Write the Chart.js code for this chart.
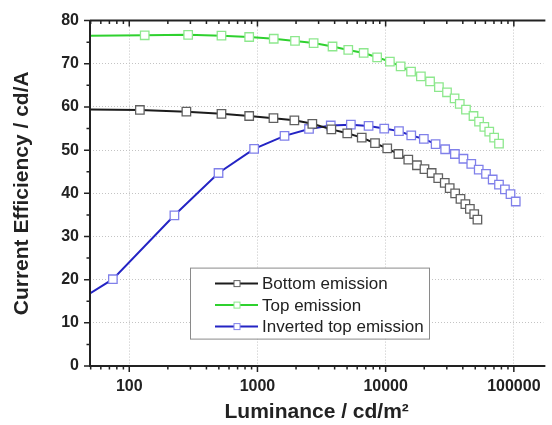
<!DOCTYPE html>
<html>
<head>
<meta charset="utf-8">
<script src="https://cdn.jsdelivr.net/npm/chart.js@4"></script>
<style>
  html, body { margin: 0; padding: 0; background: #fff; }
</style>
</head>
<body>
<canvas id="effChart" width="552" height="425"></canvas>
<script>
// values: luminance (cd/m2) vs current efficiency (cd/A)
// first entry of each series = where the fitted curve enters the plot (no marker there)
const bottomLum = [49.4, 121, 279, 524, 862, 1333, 1941, 2680, 3770, 5020, 6510, 8260, 10290, 12590,
  15020, 17550, 20090, 22850, 25720, 28920, 31600, 34850, 38350, 41880, 45400, 49080, 52000];
const bottomEff = [59.4, 59.3, 58.9, 58.4, 57.9, 57.4, 56.9, 56.1, 54.8, 53.9, 52.9, 51.6, 50.4, 49.1,
  47.8, 46.5, 45.6, 44.7, 43.5, 42.4, 41.2, 40.0, 38.7, 37.5, 36.4, 35.2, 33.9];

const topLum = [49.4, 132, 288, 524, 862, 1340, 1963, 2743, 3852, 5110, 6740, 8580, 10790, 13090,
  15780, 18830, 22210, 26030, 30110, 34500, 37860, 42340, 48450, 53540, 58840, 64300, 70200, 76600];
const topEff = [76.5, 76.6, 76.7, 76.5, 76.2, 75.8, 75.3, 74.8, 74.0, 73.2, 72.5, 71.5, 70.5, 69.4,
  68.2, 67.1, 65.9, 64.6, 63.4, 62.0, 60.7, 59.4, 57.9, 56.6, 55.4, 54.3, 52.9, 51.5];

const invLum = [49.4, 74.5, 225, 497, 942, 1626, 2525, 3732, 5355, 7360, 9750, 12700, 15840, 19860,
  24550, 29120, 34690, 40450, 46560, 53230, 60650, 68400, 76600, 85200, 94200, 103500];
const invEff = [16.8, 20.1, 34.9, 44.7, 50.3, 53.3, 54.9, 55.7, 55.9, 55.6, 55.0, 54.4, 53.4, 52.6,
  51.4, 50.2, 49.1, 48.0, 46.8, 45.5, 44.5, 43.2, 42.0, 40.9, 39.8, 38.1];

const seriesNames = ["Bottom emission", "Top emission", "Inverted top emission"];
const xDecades = [100, 1000, 10000, 100000];
const yTicks = [0, 10, 20, 30, 40, 50, 60, 70, 80];

const lineColors = ["#1c1c1c", "#2fd12f", "#2424c4"];
const markColors = ["#606060", "#8de88d", "#8080ea"];

function toPoints(xs, ys) {
  return xs.map((x, i) => ({ x: x, y: ys[i] }));
}

function makeSet(i, xs, ys) {
  return {
    label: seriesNames[i],
    data: toPoints(xs, ys),
    borderColor: lineColors[i],
    borderWidth: 2,
    pointStyle: "rect",
    pointRadius: (ctx) => (ctx.dataIndex === 0 ? 0 : 6),
    pointBorderColor: markColors[i],
    pointBackgroundColor: "#ffffff",
    pointBorderWidth: 1.3,
    tension: 0,
  };
}

// axes frame + minor/major tick marks, like the original plot
const framePlugin = {
  id: "frame",
  afterDatasetsDraw(chart) {
    const { ctx, chartArea: a, scales } = chart;
    const xs = scales.x, ys = scales.y;
    ctx.save();
    ctx.strokeStyle = "#222";
    ctx.lineWidth = 2;
    ctx.beginPath();
    ctx.moveTo(a.left, a.top);
    ctx.lineTo(a.left, a.bottom);
    ctx.lineTo(a.right + 2, a.bottom);
    ctx.moveTo(a.left, a.top);
    ctx.lineTo(a.right + 2, a.top);
    ctx.stroke();

    ctx.lineWidth = 1.5;
    ctx.beginPath();
    // y ticks (outside, to the left)
    for (let v = 0; v <= 80; v += 5) {
      const y = ys.getPixelForValue(v);
      const len = v % 10 === 0 ? 6 : 3.5;
      ctx.moveTo(a.left, y);
      ctx.lineTo(a.left - len, y);
    }
    // x ticks: bottom pointing out, top pointing in
    for (let p = 1; p <= 5; p++) {
      for (let m = 1; m <= 9; m++) {
        const v = m * Math.pow(10, p);
        if (v < xs.min || v > xs.max) continue;
        const x = xs.getPixelForValue(v);
        const len = m === 1 ? 6 : 3.5;
        ctx.moveTo(x, a.bottom);
        ctx.lineTo(x, a.bottom + len);
        ctx.moveTo(x, a.top);
        ctx.lineTo(x, a.top + len);
      }
    }
    ctx.stroke();
    ctx.restore();
  },
};

// boxed legend sitting inside the plot, lower middle
const legendPlugin = {
  id: "boxLegend",
  afterDraw(chart) {
    const { ctx, chartArea: a } = chart;
    const bx = a.left + 100, by = a.top + 247, bw = 239, bh = 71;
    ctx.save();
    ctx.fillStyle = "#fff";
    ctx.fillRect(bx, by, bw, bh);
    ctx.strokeStyle = "#8a8a8a";
    ctx.lineWidth = 1;
    ctx.strokeRect(bx + 0.5, by + 0.5, bw, bh);
    ctx.font = "17px Arial, 'Liberation Sans', sans-serif";
    ctx.textBaseline = "middle";
    seriesNames.forEach((name, i) => {
      const cy = by + 16 + i * 21.5;
      ctx.strokeStyle = lineColors[i];
      ctx.lineWidth = 2;
      ctx.beginPath();
      ctx.moveTo(bx + 25, cy);
      ctx.lineTo(bx + 68, cy);
      ctx.stroke();
      ctx.fillStyle = "#fff";
      ctx.fillRect(bx + 44, cy - 3, 6, 6);
      ctx.strokeStyle = markColors[i];
      ctx.lineWidth = 1;
      ctx.strokeRect(bx + 44, cy - 3, 6, 6);
      ctx.fillStyle = "#222";
      ctx.fillText(name, bx + 72, cy + 1);
    });
    ctx.restore();
  },
};

const tickFont = { family: "Arial, 'Liberation Sans', sans-serif", size: 16, weight: "bold" };
const titleFont = { family: "Arial, 'Liberation Sans', sans-serif", size: 21, weight: "bold" };

new Chart(document.getElementById("effChart"), {
  type: "line",
  data: {
    datasets: [
      makeSet(0, bottomLum, bottomEff),
      makeSet(1, topLum, topEff),
      makeSet(2, invLum, invEff),
    ],
  },
  options: {
    responsive: false,
    animation: false,
    devicePixelRatio: 1,
    layout: { padding: { top: 19, right: 0, left: 0, bottom: 0 } },
    plugins: { legend: { display: false }, tooltip: { enabled: false } },
    scales: {
      x: {
        type: "logarithmic",
        min: 49.4,
        max: 170000,
        afterBuildTicks: (s) => { s.ticks = xDecades.map((v) => ({ value: v })); },
        afterFit: (s) => { s.height = 59; },
        ticks: {
          font: tickFont, color: "#222", autoSkip: false, maxRotation: 0, padding: 11,
          callback: (v) => String(v),
        },
        grid: { color: "#c4c4c4", lineWidth: 1, drawTicks: false },
        border: { display: false, dash: [1, 2] },
        title: { display: true, text: "Luminance / cd/m²", font: titleFont, color: "#222",
          padding: { top: 0, bottom: 0 } },
      },
      y: {
        min: 0,
        max: 80,
        afterBuildTicks: (s) => { s.ticks = yTicks.map((v) => ({ value: v })); },
        afterFit: (s) => { s.width = 90; },
        ticks: { font: tickFont, color: "#222", padding: 11 },
        grid: { color: "#c4c4c4", lineWidth: 1, drawTicks: false },
        border: { display: false, dash: [1, 2] },
        title: { display: true, text: "Current Efficiency / cd/A", font: titleFont, color: "#222",
          padding: { top: 10, bottom: 0 } },
      },
    },
  },
  plugins: [framePlugin, legendPlugin],
});
</script>
</body>
</html>
